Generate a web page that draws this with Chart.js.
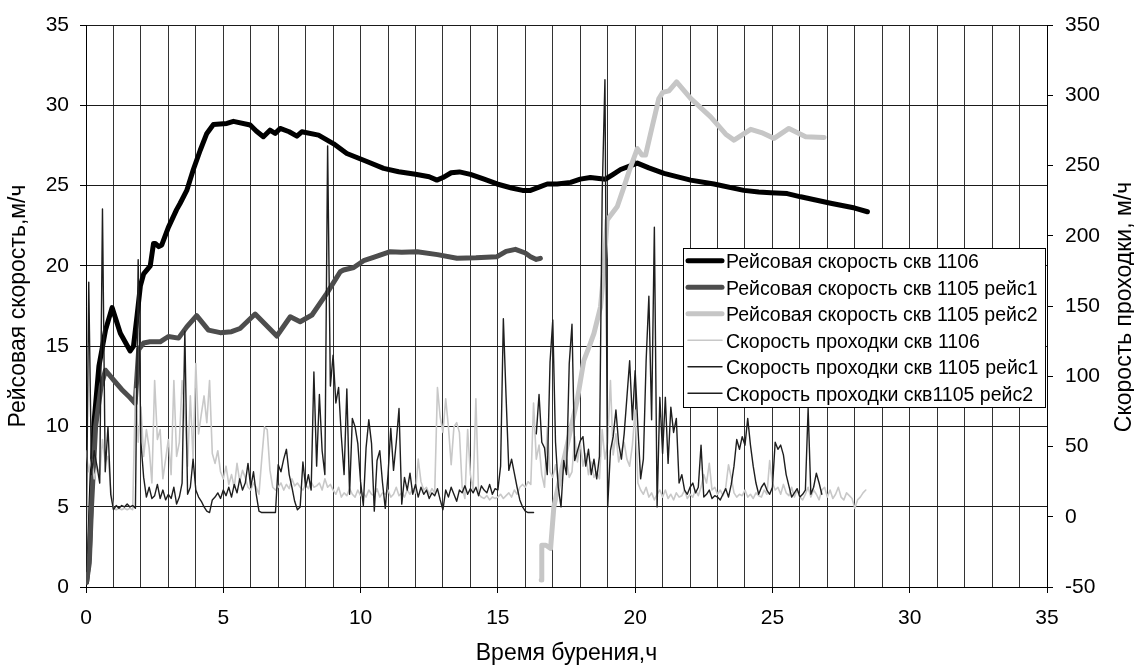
<!DOCTYPE html>
<html>
<head>
<meta charset="utf-8">
<script src="https://cdn.jsdelivr.net/npm/chart.js@4.4.1/dist/chart.umd.min.js"></script>
<style>
  html, body { margin: 0; padding: 0; background: #fff; }
  #wrap { width: 1134px; height: 666px; }
</style>
</head>
<body>
<div id="wrap"><canvas id="chart" width="1134" height="666"></canvas></div>
<script>
// --- Рейсовая скорость, м/ч (left axis), time in hours ---
const trip1106X = [0.02, 0.12, 0.2, 0.29, 0.47, 0.71, 0.95, 1.25, 1.61, 1.73, 1.86, 1.98, 2.1, 2.34, 2.46, 2.52, 2.65, 2.76, 3.0, 3.3, 3.43, 3.67, 3.91, 4.16, 4.4, 4.64, 5.13, 5.37, 5.98, 6.2, 6.46, 6.7, 6.89, 7.07, 7.4, 7.68, 7.86, 8.47, 9.02, 9.5, 10.23, 10.84, 11.39, 12.0, 12.5, 12.78, 13.0, 13.3, 13.6, 14.0, 14.5, 14.97, 15.5, 15.9, 16.19, 16.5, 16.8, 17.16, 17.65, 18.0, 18.37, 18.92, 19.2, 19.47, 20.08, 20.5, 21.05, 22.02, 22.87, 23.96, 24.5, 24.94, 25.54, 26.03, 27.12, 28.0, 28.46];
const trip1106Y = [0.3, 2, 6, 10.2, 13.75, 16, 17.4, 15.8, 14.7, 15.0, 16.9, 18.75, 19.5, 20, 21.4, 21.4, 21.2, 21.3, 22.4, 23.5, 23.9, 24.7, 26.0, 27.2, 28.25, 28.8, 28.87, 29.0, 28.77, 28.4, 28.04, 28.45, 28.25, 28.56, 28.35, 28.08, 28.35, 28.14, 27.6, 27.0, 26.5, 26.07, 25.86, 25.7, 25.55, 25.34, 25.5, 25.8, 25.85, 25.7, 25.4, 25.1, 24.85, 24.7, 24.7, 24.9, 25.1, 25.1, 25.2, 25.4, 25.5, 25.4, 25.7, 26.0, 26.4, 26.1, 25.76, 25.34, 25.1, 24.7, 24.6, 24.55, 24.5, 24.3, 23.9, 23.6, 23.37];

const trip1105r1X = [0.02, 0.12, 0.2, 0.35, 0.55, 0.71, 1.0, 1.3, 1.6, 1.79, 1.92, 2.1, 2.33, 2.7, 3.0, 3.37, 3.67, 4.03, 4.46, 4.89, 5.3, 5.61, 6.16, 6.95, 7.44, 7.8, 8.23, 8.77, 9.26, 9.38, 9.75, 10.11, 10.47, 11.08, 11.5, 12.06, 12.8, 13.51, 14.2, 14.97, 15.3, 15.64, 16.0, 16.19, 16.4, 16.55];
const trip1105r1Y = [0.3, 1.5, 5, 10, 12.5, 13.5, 12.9, 12.3, 11.8, 11.44, 14.8, 15.2, 15.27, 15.27, 15.6, 15.5, 16.2, 16.9, 16.0, 15.84, 15.9, 16.1, 17.0, 15.63, 16.83, 16.52, 16.94, 18.29, 19.63, 19.74, 19.9, 20.32, 20.53, 20.88, 20.85, 20.88, 20.7, 20.47, 20.5, 20.57, 20.9, 21.03, 20.8, 20.57, 20.4, 20.47];

const trip1105r2X = [16.58, 16.6, 16.75, 16.92, 17.04, 17.4, 17.89, 18.13, 18.37, 18.5, 18.74, 18.85, 18.98, 19.35, 19.59, 19.8, 20.08, 20.25, 20.38, 20.62, 20.86, 21.0, 21.23, 21.51, 22.02, 22.75, 23.3, 23.6, 24.21, 24.6, 25.06, 25.6, 26.21, 26.88];
const trip1105r2Y = [0.44, 2.6, 2.6, 2.4, 5.0, 7.9, 11.64, 14.1, 15.17, 15.8, 17.45, 19.5, 22.85, 23.7, 24.9, 26.0, 27.3, 26.9, 26.9, 28.66, 30.4, 30.8, 30.9, 31.46, 30.43, 29.28, 28.2, 27.83, 28.5, 28.3, 27.94, 28.56, 28.04, 28.0];

// --- Скорость проходки, м/ч (right axis), one reading every 0.1 h ---
const ropStep = 0.1;
const rop1106Start = 0;
const rop1106 = [
  47, 32, 41, 27, 36, 30, 55, 39, 43, 21,
  6, 5, 6, 5, 6, 5, 6, 5, 91, 53,
  78, 43, 62, 49, 24, 97, 55, 62, 27, 41,
  55, 30, 97, 43, 53, 97, 73, 36, 86, 41,
  109, 59, 73, 86, 67, 97, 45, 38, 47, 32,
  27, 36, 23, 30, 21, 38, 25, 33, 28, 21,
  19, 24, 21, 16, 41, 64, 62, 33, 21, 19,
  21, 24, 19, 23, 20, 27, 22, 24, 21, 19,
  23, 20, 25, 21, 22, 24, 19, 27, 21, 23,
  19, 16, 21, 14, 17, 15, 20, 16, 14, 19,
  15, 17, 14, 19, 16, 15, 20, 14, 17, 16,
  19, 14, 16, 21, 15, 17, 14, 19, 16, 20,
  17, 41, 25, 19, 21, 16, 20, 17, 92, 71,
  60, 84, 64, 37, 64, 67, 60, 21, 13, 62,
  30, 19, 84, 16, 14, 13, 15, 12, 14, 13,
  14, 16, 13, 15, 17, 14, 19, 16, 21, 23,
  21, 25, 23, 81, 41, 51, 30, 21, 64, 32,
  28, 37, 24, 30, 35, 41, 28, 32, 57, 39,
  53, 36, 45, 30, 39, 28, 32, 27, 62, 41,
  53, 97, 44, 59, 39, 47, 53, 41, 36, 51,
  76, 24, 19, 16, 21, 14, 17, 12, 16, 19,
  14, 19, 13, 16, 12, 17, 14, 15, 19, 13,
  16, 14, 19, 15, 21, 30, 24, 38, 19, 21,
  16, 19, 15, 21, 37, 28, 17, 14, 16, 15,
  19, 14, 16, 13, 17, 15, 14, 19, 16, 40,
  24, 19, 21, 16, 23, 17, 15, 21, 14, 19,
  14, 12, 16, 21, 14, 19, 16, 12, 19, 21,
  14, 19, 13, 16, 21, 14, 12, 17, 15, 13,
  6, 12, 14, 17, 19
];

const rop1105r1Start = 0;
const rop1105r1 = [
  -39, 167, 30, 47, 36, 24, 219, 32, 64, 16,
  5, 8, 6, 8, 7, 9, 7, 8, 6, 183,
  53, 28, 14, 21, 13, 15, 23, 13, 19, 12,
  16, 13, 21, 9, 14, 24, 132, 16, 21, 41,
  19, 14, 11, 7, 4, 3, 12, 14, 17, 13,
  19, 15, 21, 14, 23, 17, 27, 19, 24, 38,
  21, 32, 16, 4, 3, 3, 3, 3, 3, 3,
  37, 32, 41, 48, 30, 21, 11, 5, 7, 39,
  21, 30, 19, 103, 36, 87, 47, 30, 264, 93,
  115, 81, 92, 57, 30, 91, 16, 70, 64, 52,
  25, 8, 49, 69, 52, 4, 40, 47, 24, 6,
  30, 63, 33, 53, 77, 9, 28, 19, 31, 16,
  23, 14, 21, 16, 19, 13, 17, 15, 20, 12,
  5, 19, 14, 21, 16, 11, 19, 17, 22, 16,
  20, 17, 21, 15, 22, 19, 17, 23, 16, 20,
  19, 36, 141, 85, 33, 41, 31, 21, 12, 7,
  4, 3, 3, 3
];

const rop1105r2Start = 16.4;
const rop1105r2 = [
  59, 87, 53, 49, 30, 110,
  140, 53, 21, 7, 40, 30, 109, 137, 40, 47,
  54, 57, 36, 48, 30, 41, 27, 43, 230, 311,
  7, 47, 57, 76, 52, 41, 59, 85, 111, 69,
  104, 64, 27, 41, 111, 157, 69, 206, 7, 85,
  45, 85, 38, 78, 60, 70, 24, 30, 19, 16,
  21, 24, 17, 21, 51, 14, 16, 19, 13, 15,
  14, 12, 16, 20, 14, 23, 36, 55, 48, 57,
  51, 70, 51, 36, 24, 16, 21, 24, 19, 16,
  21, 53, 48, 51, 44, 30, 22, 14, 17, 20,
  14, 16, 19, 77, 16, 21, 31, 24, 16
];

// --- axis ranges ---
const timeMin = 0, timeMax = 35;
const tripMin = 0, tripMax = 35, tripStep = 5;
const ropMin = -50, ropMax = 350, ropTickStep = 50;

const FONT = "Arial, 'Liberation Sans', sans-serif";

function pairs(xs, ys) {
  return xs.map((x, i) => ({ x: x, y: ys[i] }));
}
function sampled(start, values) {
  return values.map((v, i) => ({ x: Math.round((start + i * ropStep) * 10) / 10, y: v }));
}

// legend box inside the plot plus the right axis title (reads bottom-to-top)
const overlay = {
  id: 'overlay',
  afterDraw(chart) {
    const ctx = chart.ctx;
    ctx.save();
    const bx = 683.5, by = 248.5, bw = 362, bh = 159;
    ctx.fillStyle = '#fff';
    ctx.fillRect(bx, by, bw, bh);
    ctx.strokeStyle = '#000';
    ctx.lineWidth = 1;
    ctx.strokeRect(bx, by, bw, bh);
    ctx.font = '19.5px ' + FONT;
    ctx.textBaseline = 'middle';
    ctx.textAlign = 'left';
    chart.data.datasets.forEach((ds, i) => {
      const y = 262.8 + i * 26.5;
      ctx.strokeStyle = ds.borderColor;
      ctx.lineWidth = ds.borderWidth;
      ctx.lineCap = 'round';
      ctx.beginPath();
      ctx.moveTo(688, y - 2);
      ctx.lineTo(722, y - 2);
      ctx.stroke();
      ctx.fillStyle = '#000';
      ctx.fillText(ds.label, 726, y);
    });

    ctx.translate(1125, 307);
    ctx.rotate(-Math.PI / 2);
    ctx.textAlign = 'center';
    ctx.font = '23px ' + FONT;
    ctx.fillStyle = '#000';
    ctx.fillText('Скорость проходки, м/ч', 0, 0);
    ctx.restore();
  }
};

new Chart(document.getElementById('chart'), {
  type: 'line',
  data: {
    datasets: [
      { label: 'Рейсовая скорость скв 1106', data: pairs(trip1106X, trip1106Y), yAxisID: 'y',
        borderColor: '#000000', borderWidth: 5, order: 6 },
      { label: 'Рейсовая скорость скв 1105 рейс1', data: pairs(trip1105r1X, trip1105r1Y), yAxisID: 'y',
        borderColor: '#4d4d4d', borderWidth: 5, order: 5 },
      { label: 'Рейсовая скорость скв 1105 рейс2', data: pairs(trip1105r2X, trip1105r2Y), yAxisID: 'y',
        borderColor: '#c6c6c6', borderWidth: 5, order: 4 },
      { label: 'Скорость проходки скв 1106', data: sampled(rop1106Start, rop1106), yAxisID: 'y1',
        borderColor: '#c8c8c8', borderWidth: 1.6, order: 3 },
      { label: 'Скорость проходки скв 1105 рейс1', data: sampled(rop1105r1Start, rop1105r1), yAxisID: 'y1',
        borderColor: '#1e1e1e', borderWidth: 1.4, order: 2 },
      { label: 'Скорость проходки скв1105 рейс2', data: sampled(rop1105r2Start, rop1105r2), yAxisID: 'y1',
        borderColor: '#1e1e1e', borderWidth: 1.4, order: 1 }
    ]
  },
  options: {
    responsive: false,
    animation: false,
    devicePixelRatio: 1,
    layout: { padding: { top: 25, left: 0, right: 0, bottom: 0 } },
    elements: {
      point: { radius: 0 },
      line: { tension: 0, borderJoinStyle: 'round', borderCapStyle: 'round', fill: false }
    },
    plugins: { legend: { display: false }, tooltip: { enabled: false } },
    scales: {
      x: {
        type: 'linear', min: timeMin, max: timeMax,
        ticks: {
          stepSize: 1, autoSkip: false, maxRotation: 0, padding: 13,
          color: '#000', font: { family: FONT, size: 21 },
          callback: v => (v % 5 === 0 ? v : '')
        },
        grid: {
          color: '#333333', lineWidth: 1, tickLength: 6,
          tickColor: c => (c.tick && c.tick.value % 5 === 0 ? '#000' : 'rgba(0,0,0,0)')
        },
        border: { color: '#000', width: 1 },
        title: {
          display: true, text: 'Время бурения,ч', color: '#000',
          font: { family: FONT, size: 23, lineHeight: 1 }, padding: { top: 0, bottom: 0.5 }
        },
        afterFit: s => { s.height = 79; }
      },
      y: {
        position: 'left', min: tripMin, max: tripMax,
        ticks: { stepSize: tripStep, padding: 11, color: '#000', font: { family: FONT, size: 21 } },
        grid: { color: '#1a1a1a', lineWidth: 1, tickLength: 6, tickColor: '#000' },
        border: { color: '#000', width: 1 },
        title: {
          display: true, text: 'Рейсовая скорость,м/ч', color: '#000',
          font: { family: FONT, size: 23, lineHeight: 1 }, padding: { top: 7.5, bottom: 0 }
        },
        afterFit: s => { s.width = 86; }
      },
      y1: {
        position: 'right', min: ropMin, max: ropMax,
        ticks: { stepSize: ropTickStep, padding: 12, color: '#000', font: { family: FONT, size: 21 } },
        grid: { drawOnChartArea: false, tickLength: 6, tickColor: '#000' },
        border: { color: '#000', width: 1 },
        afterFit: s => { s.width = 87; }
      }
    }
  },
  plugins: [overlay]
});
</script>
</body>
</html>
